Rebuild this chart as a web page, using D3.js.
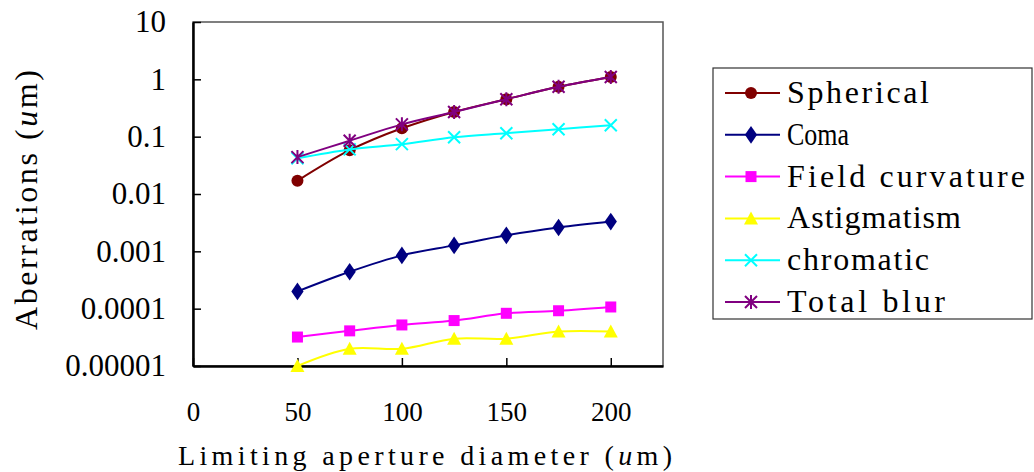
<!DOCTYPE html>
<html>
<head>
<script src="https://cdn.jsdelivr.net/npm/d3@7"></script>
</head>
<body style="margin:0">
<script>
var diameters = [50, 75, 100, 125, 150, 175, 200];

var spherical = [0.017, 0.058, 0.14, 0.27, 0.45, 0.74, 1.1];
var coma = [0.0002, 0.00044, 0.00085, 0.00127, 0.0019, 0.0026, 0.0033];
var fieldCurvature = [0.000032, 0.000041, 0.000052, 0.000062, 0.000083, 0.000092, 0.000107];
var astigmatism = [0.00001, 0.00002, 0.00002, 0.00003, 0.00003, 0.00004, 0.00004];
var chromatic = [0.042, 0.06, 0.074, 0.098, 0.115, 0.135, 0.158];
var totalBlur = [0.044, 0.085, 0.164, 0.27, 0.45, 0.74, 1.1];

var seriesNames = ["Spherical", "Coma", "Field curvature", "Astigmatism", "chromatic", "Total blur"];
var seriesColors = ["#800000", "#000080", "#ff00ff", "#ffff00", "#00ffff", "#800080"];
var seriesMarkers = ["circle", "diamond", "square", "triangle", "x", "star"];
var seriesValues = [spherical, coma, fieldCurvature, astigmatism, chromatic, totalBlur];

var yTicks = [10, 1, 0.1, 0.01, 0.001, 0.0001, 0.00001];
var yTickLabels = ["10", "1", "0.1", "0.01", "0.001", "0.0001", "0.00001"];
var xTicks = [0, 50, 100, 150, 200];

var fontName = "Liberation Serif";

var margin = {left:193, top:22, right:371, bottom:106};
var width = 1034, height = 472;

var x = d3.scaleLinear().domain([0, 225]).range([margin.left, width - margin.right]);
var y = d3.scaleLog().domain([0.00001, 10]).range([height - margin.bottom, margin.top]);

var svg = d3.select("body").append("svg").attr("width", width).attr("height", height)
    .attr("font-family", fontName);

function setFont(sel, size) {
  sel.attr("font-family", fontName).attr("font-size", size)
     .style("font-family", "'" + fontName + "'").style("font-size", size + "px");
}

// fit a text to a given width, like the monospaced font of the original
function fitText(t, w) {
  var n = t.node().getComputedTextLength();
  t.attr("textLength", w).attr("lengthAdjust", n < w ? "spacing" : "spacingAndGlyphs");
}

// frame: top/right grey, left/bottom black
svg.append("rect")
    .attr("x", x(0)).attr("y", y(10))
    .attr("width", x(225) - x(0)).attr("height", y(0.00001) - y(10))
    .attr("fill", "none").attr("stroke", "#555").attr("stroke-width", 1.5);

var yAxis = d3.axisLeft(y).tickValues(yTicks)
    .tickFormat(function(d, i){ return yTickLabels[i]; })
    .tickSizeInner(-8).tickSizeOuter(0).tickPadding(27);
var xAxis = d3.axisBottom(x).tickValues(xTicks)
    .tickSizeInner(-8).tickSizeOuter(0).tickPadding(36);

var gy = svg.append("g").attr("transform", "translate(" + x(0) + ",0)").call(yAxis);
var gx = svg.append("g").attr("transform", "translate(0," + y(0.00001) + ")").call(xAxis);
setFont(gy, 31);
setFont(gx, 27);
setFont(gy.selectAll("text"), 31);
setFont(gx.selectAll("text"), 27);
gy.select(".domain").attr("stroke-width", 2.5);
gx.select(".domain").attr("stroke-width", 2.5);
gy.selectAll(".tick line").attr("stroke-width", 1.5);
gx.selectAll(".tick line").attr("stroke-width", 1.5);

// axis titles
var xt = svg.append("text").attr("x", 178).attr("y", 465);
setFont(xt, 28);
xt.append("tspan").text("Limiting aperture diameter (");
xt.append("tspan").style("font-style", "italic").text("u");
xt.append("tspan").text("m)");
fitText(xt, 494);

var yt = svg.append("text").attr("transform", "translate(37,330) rotate(-90)");
setFont(yt, 32);
yt.append("tspan").text("Aberrations (");
yt.append("tspan").style("font-style", "italic").text("u");
yt.append("tspan").text("m)");
fitText(yt, 260);

// marker drawing
function drawMarker(g, type, color, cx, cy) {
  if (type === "circle") {
    g.append("circle").attr("cx", cx).attr("cy", cy).attr("r", 6).attr("fill", color);
  } else if (type === "diamond") {
    g.append("path").attr("d", d3.symbol(d3.symbolDiamond, 90)()).attr("transform", "translate(" + cx + "," + cy + ") scale(1.2,1)").attr("fill", color);
  } else if (type === "square") {
    g.append("rect").attr("x", cx - 5.5).attr("y", cy - 5.5).attr("width", 11).attr("height", 11).attr("fill", color);
  } else if (type === "triangle") {
    g.append("path").attr("d", "M" + cx + "," + (cy - 7) + "L" + (cx + 7) + "," + (cy + 6) + "L" + (cx - 7) + "," + (cy + 6) + "Z").attr("fill", color);
  } else if (type === "x") {
    g.append("path").attr("d", "M" + (cx - 6) + "," + (cy - 6) + "L" + (cx + 6) + "," + (cy + 6) + "M" + (cx + 6) + "," + (cy - 6) + "L" + (cx - 6) + "," + (cy + 6))
      .attr("stroke", color).attr("stroke-width", 2);
  } else if (type === "star") {
    g.append("path").attr("d", "M" + (cx - 6) + "," + (cy - 6) + "L" + (cx + 6) + "," + (cy + 6) + "M" + (cx + 6) + "," + (cy - 6) + "L" + (cx - 6) + "," + (cy + 6) + "M" + cx + "," + (cy - 7) + "L" + cx + "," + (cy + 7))
      .attr("stroke", color).attr("stroke-width", 2);
  }
}

var line = d3.line()
    .x(function(d, i){ return x(diameters[i]); })
    .y(function(d){ return y(d); })
    .curve(d3.curveCatmullRom.alpha(0.5));

var plot = svg.append("g");
seriesValues.forEach(function(vals, s) {
  plot.append("path").attr("d", line(vals))
      .attr("fill", "none").attr("stroke", seriesColors[s]).attr("stroke-width", 2);
  var mg = plot.append("g");
  vals.forEach(function(v, i){ drawMarker(mg, seriesMarkers[s], seriesColors[s], x(diameters[i]), y(v)); });
});

// legend
var legend = svg.append("g");
legend.append("rect").attr("x", 713).attr("y", 68).attr("width", 319).attr("height", 251)
    .attr("fill", "#fff").attr("stroke", "#333").attr("stroke-width", 1.2);
seriesNames.forEach(function(name, s) {
  var cy = 93 + s * 41.8;
  legend.append("line").attr("x1", 725).attr("x2", 780).attr("y1", cy).attr("y2", cy)
      .attr("stroke", seriesColors[s]).attr("stroke-width", 2);
  drawMarker(legend, seriesMarkers[s], seriesColors[s], 751, cy);
  var t = legend.append("text").attr("x", 787).attr("y", cy + 10).text(name);
  setFont(t, 32);
  fitText(t, name.length * 16 - 2);
});
</script>
</body>
</html>
